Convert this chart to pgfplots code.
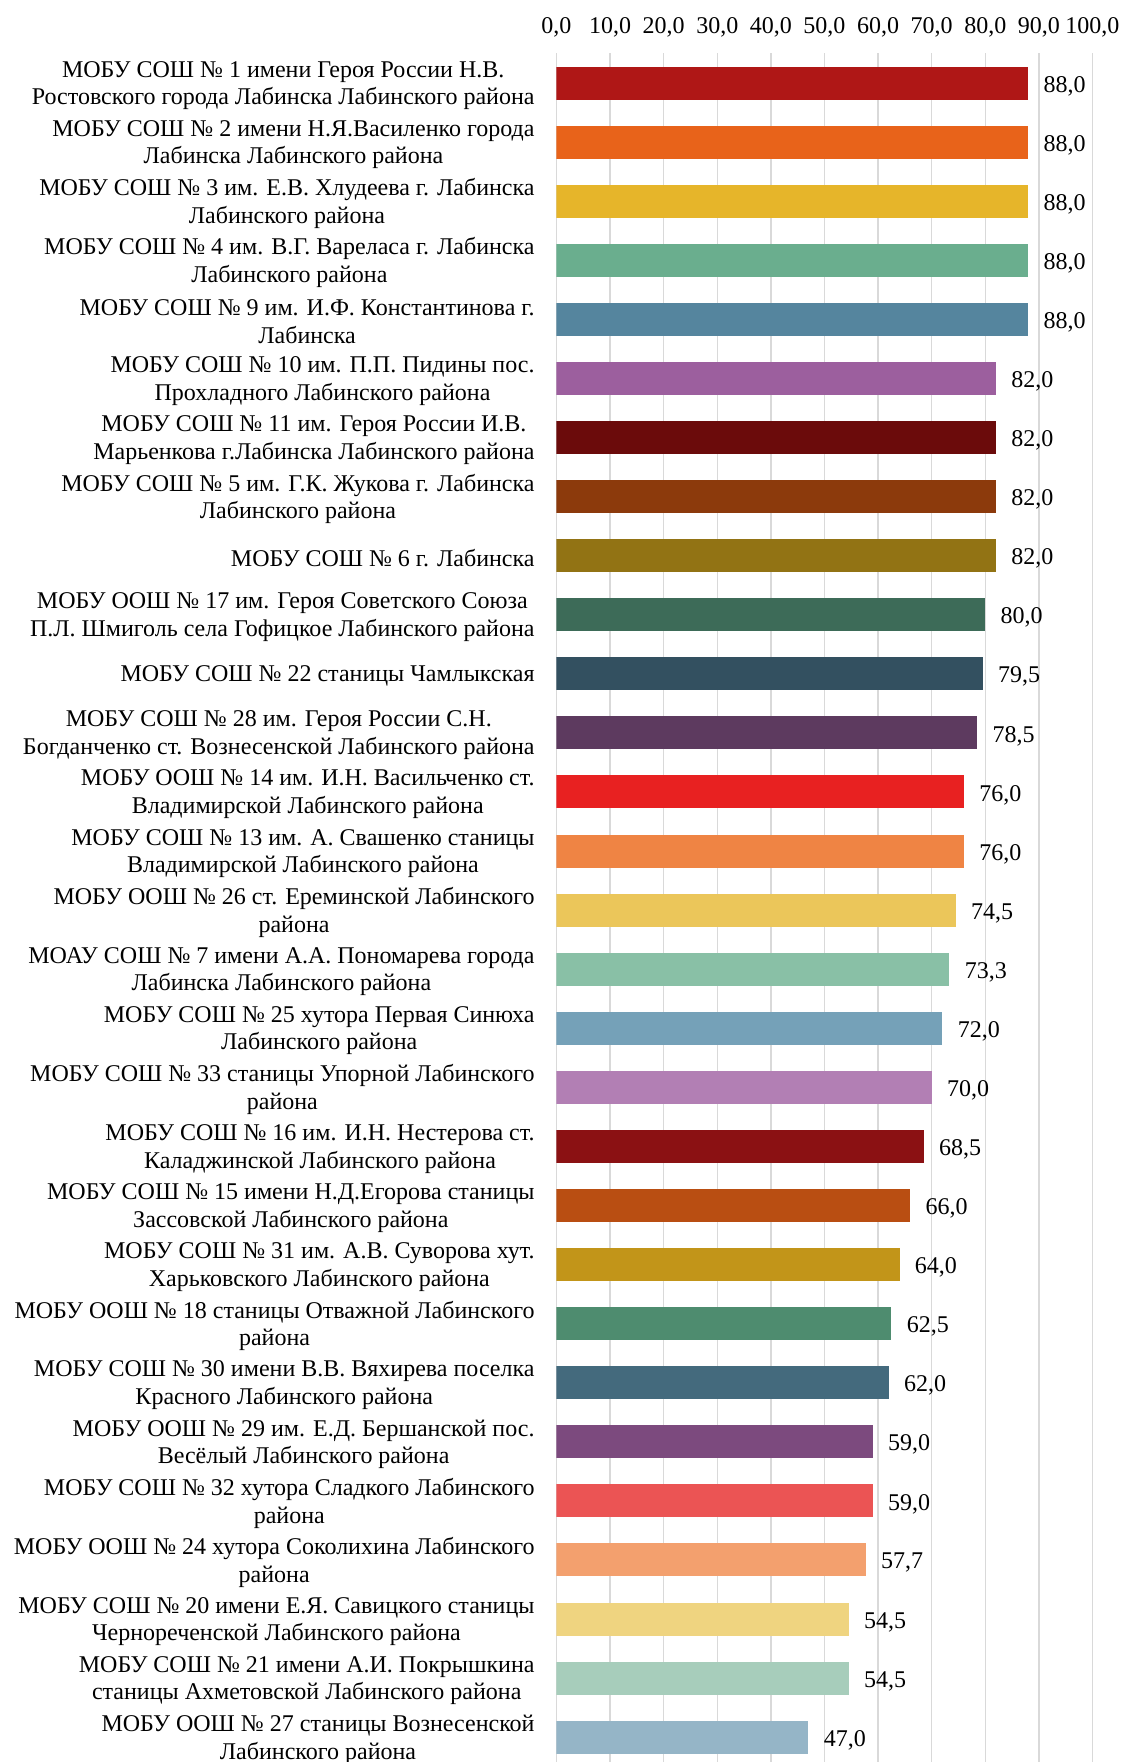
\documentclass[border=0pt]{standalone}
\usepackage{fontspec}
\setmainfont{Liberation Serif}
\usepackage{pgfplots}
\pgfplotsset{compat=1.18}
\usetikzlibrary{calc}

% bar colours, top to bottom
\definecolor{c0}{HTML}{AF1716}
\definecolor{c1}{HTML}{E8631A}
\definecolor{c2}{HTML}{E6B52A}
\definecolor{c3}{HTML}{6AAE8E}
\definecolor{c4}{HTML}{55859E}
\definecolor{c5}{HTML}{9C5F9E}
\definecolor{c6}{HTML}{6B0B0B}
\definecolor{c7}{HTML}{8C3A0C}
\definecolor{c8}{HTML}{927314}
\definecolor{c9}{HTML}{3D6B58}
\definecolor{c10}{HTML}{335060}
\definecolor{c11}{HTML}{5D3A5F}
\definecolor{c12}{HTML}{E82121}
\definecolor{c13}{HTML}{EF8444}
\definecolor{c14}{HTML}{EBC65A}
\definecolor{c15}{HTML}{89C0A6}
\definecolor{c16}{HTML}{75A1B8}
\definecolor{c17}{HTML}{B27FB4}
\definecolor{c18}{HTML}{8B1113}
\definecolor{c19}{HTML}{B94E12}
\definecolor{c20}{HTML}{C29519}
\definecolor{c21}{HTML}{4E8C6F}
\definecolor{c22}{HTML}{446A7D}
\definecolor{c23}{HTML}{7C4A7E}
\definecolor{c24}{HTML}{EB5454}
\definecolor{c25}{HTML}{F3A06E}
\definecolor{c26}{HTML}{EFD480}
\definecolor{c27}{HTML}{A7CDBB}
\definecolor{c28}{HTML}{95B5C7}
\definecolor{gridgrey}{HTML}{D9D9D9}

\newcommand\lblfont{\fontsize{12}{13.8}\selectfont}

\begin{document}
\begin{tikzpicture}
\begin{axis}[
  xbar, bar shift=0pt, bar width=16.5pt,
  scale only axis, width=268pt, height=854.25pt,
  xmin=0, xmax=100, ymin=-0.5, ymax=28.42,
  y dir=reverse,
  axis line style={draw=none},
  major tick length=0pt,
  xtick={0,10,...,100},
  xticklabel pos=upper,
  xmajorgrids, grid style={gridgrey, line width=0.75pt},
  x tick label style={font=\lblfont, inner sep=0pt,
    anchor=base, yshift=10pt,
    /pgf/number format/.cd, fixed, fixed zerofill, precision=1, use comma,
    assume math mode=true},
  ytick={0,...,28},
  yticklabels={
    {МОБУ СОШ № 1 имени Героя России Н.В.\\Ростовского города Лабинска Лабинского района},
    {МОБУ СОШ № 2 имени Н.Я.Василенко города\\Лабинска Лабинского района},
    {МОБУ СОШ № 3 им. Е.В. Хлудеева г. Лабинска\\Лабинского района},
    {МОБУ СОШ № 4 им. В.Г. Вареласа г. Лабинска\\Лабинского района},
    {МОБУ СОШ № 9 им. И.Ф. Константинова г.\\Лабинска},
    {МОБУ СОШ № 10 им. П.П. Пидины пос.\\Прохладного Лабинского района},
    {МОБУ СОШ № 11 им. Героя России И.В.\\Марьенкова г.Лабинска Лабинского района},
    {МОБУ СОШ № 5 им. Г.К. Жукова г. Лабинска\\Лабинского района},
    {МОБУ СОШ № 6 г. Лабинска},
    {МОБУ ООШ № 17 им. Героя Советского Союза\\П.Л. Шмиголь села Гофицкое Лабинского района},
    {МОБУ СОШ № 22 станицы Чамлыкская},
    {МОБУ СОШ № 28 им. Героя России С.Н.\\Богданченко ст. Вознесенской Лабинского района},
    {МОБУ ООШ № 14 им. И.Н. Васильченко ст.\\Владимирской Лабинского района},
    {МОБУ СОШ № 13 им. А. Свашенко станицы\\Владимирской Лабинского района},
    {МОБУ ООШ № 26 ст. Ереминской Лабинского\\района},
    {МОАУ СОШ № 7 имени А.А. Пономарева города\\Лабинска Лабинского района},
    {МОБУ СОШ № 25 хутора Первая Синюха\\Лабинского района},
    {МОБУ СОШ № 33 станицы Упорной Лабинского\\района},
    {МОБУ СОШ № 16 им. И.Н. Нестерова ст.\\Каладжинской Лабинского района},
    {МОБУ СОШ № 15 имени Н.Д.Егорова станицы\\Зассовской Лабинского района},
    {МОБУ СОШ № 31 им. А.В. Суворова хут.\\Харьковского Лабинского района},
    {МОБУ ООШ № 18 станицы Отважной Лабинского\\района},
    {МОБУ СОШ № 30 имени В.В. Вяхирева поселка\\Красного Лабинского района},
    {МОБУ ООШ № 29 им. Е.Д. Бершанской пос.\\Весёлый Лабинского района},
    {МОБУ СОШ № 32 хутора Сладкого Лабинского\\района},
    {МОБУ ООШ № 24 хутора Соколихина Лабинского\\района},
    {МОБУ СОШ № 20 имени Е.Я. Савицкого станицы\\Чернореченской Лабинского района},
    {МОБУ СОШ № 21 имени А.И. Покрышкина\\станицы Ахметовской Лабинского района},
    {МОБУ ООШ № 27 станицы Вознесенской\\Лабинского района}},
  y tick label style={font=\lblfont, align=center,
    inner sep=0pt, xshift=-10.75pt, yshift=-1.2pt},
  nodes near coords,
  nodes near coords style={font=\lblfont, anchor=west,
    inner sep=0pt, xshift=7.5pt, yshift=-1.5pt, text=black,
    /pgf/number format/.cd, fixed, fixed zerofill, precision=1, use comma,
    assume math mode=true},
  every axis plot/.append style={draw=none},
]
\addplot[fill=c0]  coordinates {(88,0)};
\addplot[fill=c1]  coordinates {(88,1)};
\addplot[fill=c2]  coordinates {(88,2)};
\addplot[fill=c3]  coordinates {(88,3)};
\addplot[fill=c4]  coordinates {(88,4)};
\addplot[fill=c5]  coordinates {(82,5)};
\addplot[fill=c6]  coordinates {(82,6)};
\addplot[fill=c7]  coordinates {(82,7)};
\addplot[fill=c8]  coordinates {(82,8)};
\addplot[fill=c9]  coordinates {(80,9)};
\addplot[fill=c10] coordinates {(79.5,10)};
\addplot[fill=c11] coordinates {(78.5,11)};
\addplot[fill=c12] coordinates {(76,12)};
\addplot[fill=c13] coordinates {(76,13)};
\addplot[fill=c14] coordinates {(74.5,14)};
\addplot[fill=c15] coordinates {(73.3,15)};
\addplot[fill=c16] coordinates {(72,16)};
\addplot[fill=c17] coordinates {(70,17)};
\addplot[fill=c18] coordinates {(68.5,18)};
\addplot[fill=c19] coordinates {(66,19)};
\addplot[fill=c20] coordinates {(64,20)};
\addplot[fill=c21] coordinates {(62.5,21)};
\addplot[fill=c22] coordinates {(62,22)};
\addplot[fill=c23] coordinates {(59,23)};
\addplot[fill=c24] coordinates {(59,24)};
\addplot[fill=c25] coordinates {(57.7,25)};
\addplot[fill=c26] coordinates {(54.5,26)};
\addplot[fill=c27] coordinates {(54.5,27)};
\addplot[fill=c28] coordinates {(47,28)};
\end{axis}
% page size: labels to the left, tick labels above
\pgfresetboundingbox
\path[use as bounding box]
  ($(current axis.north west)+(-278.25pt,26.75pt)$) rectangle
  ($(current axis.south west)+(283.25pt,0pt)$);
\end{tikzpicture}
\end{document}
